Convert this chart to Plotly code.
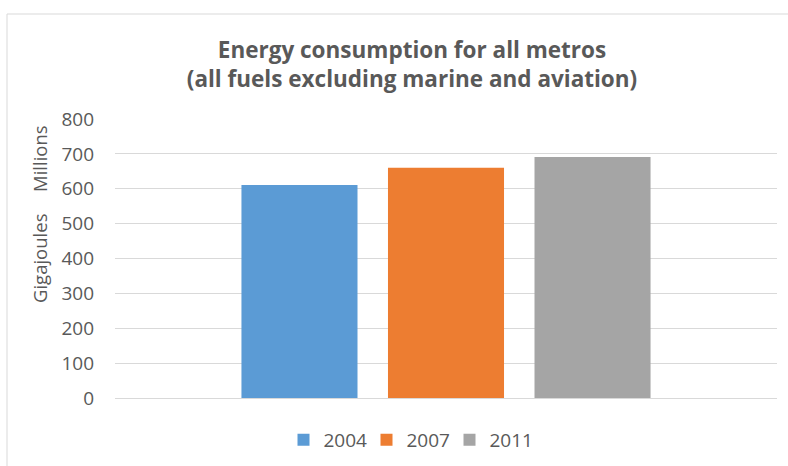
import plotly.graph_objects as go

# Energy use across all metros, by survey year (gigajoules, millions)
years = ["2004", "2007", "2011"]
energy_gj_millions = [611, 660, 691]
colors = ["#5B9BD5", "#ED7D31", "#A5A5A5"]
category = ["All metros"]

y_ticks = [0, 100, 200, 300, 400, 500, 600, 700, 800]

W, H = 788, 466
L, R, T, B = 115, 11, 119, 68
plot_w = W - L - R
plot_h = H - T - B

text_color = "#595959"
grid_color = "#D9D9D9"

fig = go.Figure()
for year, val, col in zip(years, energy_gj_millions, colors):
    fig.add_trace(go.Bar(
        name=year,
        x=category,
        y=[val],
        marker=dict(color=col, line=dict(width=0)),
        hoverinfo="name+y",
    ))

# chart-area frame (left and top edges visible)
fx0 = (7 - L) / plot_w
fy1 = (H - B - 14) / plot_h
fig.add_shape(type="line", xref="paper", yref="paper",
              x0=fx0, x1=fx0, y0=-0.5, y1=fy1,
              line=dict(color=grid_color, width=1))
fig.add_shape(type="line", xref="paper", yref="paper",
              x0=fx0, x1=1.2, y0=fy1, y1=fy1,
              line=dict(color=grid_color, width=1))

# axis title and display-unit label
fig.add_annotation(text="Gigajoules", xref="paper", yref="paper",
                   x=(39 - L) / plot_w, y=(H - B - 259) / plot_h,
                   textangle=-90, showarrow=False,
                   font=dict(family="Open Sans", size=18.5, color=text_color),
                   xanchor="center", yanchor="middle")
fig.add_annotation(text="Millions", xref="paper", yref="paper",
                   x=(39 - L) / plot_w, y=(H - B - 159) / plot_h,
                   textangle=-90, showarrow=False,
                   font=dict(family="Open Sans", size=18.5, color=text_color),
                   xanchor="center", yanchor="middle")

fig.update_layout(
    width=W, height=H,
    margin=dict(l=L, r=R, t=T, b=B, autoexpand=False),
    paper_bgcolor="white",
    plot_bgcolor="white",
    barmode="group",
    bargap=0.336,
    bargroupgap=0.208,
    font=dict(family="Open Sans", color=text_color),
    title=dict(
        text="<b>Energy consumption for all metros<br>(all fuels excluding marine and aviation)</b>",
        x=412 / W, xref="container", xanchor="center",
        y=1 - 58 / H, yref="container", yanchor="middle",
        font=dict(family="Open Sans", size=22.5, color=text_color),
    ),
    legend=dict(
        orientation="h",
        xref="container", yref="container",
        x=408 / W, xanchor="center",
        y=1 - 440 / H, yanchor="middle",
        font=dict(family="Open Sans", size=19, color=text_color),
        itemwidth=30,
        entrywidth=38,
        entrywidthmode="pixels",
        traceorder="normal",
    ),
    xaxis=dict(
        showticklabels=False, showgrid=False, zeroline=False,
        showline=False, ticks="",
    ),
    yaxis=dict(
        range=[0, 800],
        tickvals=y_ticks,
        ticktext=[str(v) for v in y_ticks],
        showgrid=True, gridcolor=grid_color, gridwidth=1,
        zeroline=True, zerolinecolor=grid_color, zerolinewidth=1,
        showline=False, ticks="",
        ticklabelstandoff=20,
        tickfont=dict(family="Open Sans", size=19, color=text_color),
    ),
)

fig.write_html("out.html")
